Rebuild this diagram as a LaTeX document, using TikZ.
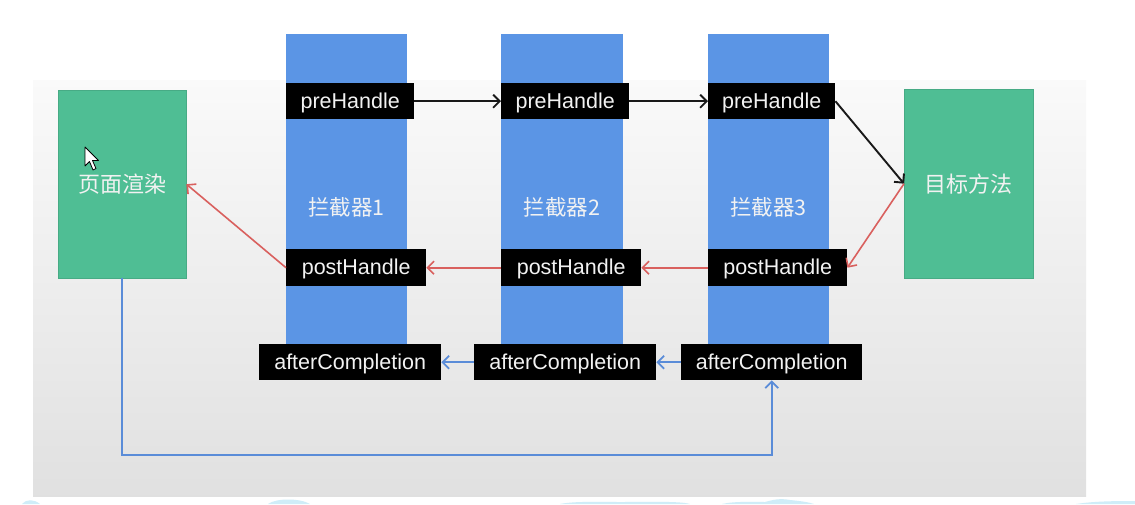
\documentclass[tikz,border=0pt]{standalone}
\usepackage{fontspec}
\setmainfont{Liberation Sans}
\newfontfamily\cjk{Noto Sans CJK SC}
\usetikzlibrary{arrows.meta}
\definecolor{grn}{HTML}{4FBE94}
\definecolor{blu}{HTML}{5B95E5}
\definecolor{redarr}{HTML}{D9605E}
\definecolor{bluarr}{HTML}{5A8CD8}
\definecolor{txt}{HTML}{F2F2F2}
\definecolor{hill}{HTML}{CFEDF8}
\tikzset{
  col/.style={fill=blu, draw=none, inner sep=0pt, anchor=north west, text=txt,
    font=\cjk\fontsize{21.5}{24}\selectfont},
  gbox/.style={fill=grn, draw=grn!90!black, line width=0.4pt, inner sep=0pt, anchor=north west, text=txt,
    font=\cjk\fontsize{22}{25}\selectfont},
  hbox/.style={fill=black, draw=none, inner sep=0pt, anchor=north west, text=txt,
    text height=17pt, text depth=3pt, font=\fontsize{21.5}{24}\selectfont},
  blk/.style={draw=black!90, line width=1.9pt, -{Straight Barb[length=6.5pt,width=13pt,line width=1.9pt]}},
  redl/.style={draw=redarr, line width=1.6pt, -{Straight Barb[length=6.5pt,width=13pt,line width=1.6pt]}},
  blul/.style={draw=bluarr, line width=1.7pt, -{Straight Barb[length=6.5pt,width=13pt,line width=1.7pt]}},
}
\begin{document}
\begin{tikzpicture}[x=1pt,y=-1pt]
\useasboundingbox (0,0) rectangle (1135,504);
\fill[white] (0,0) rectangle (1135,504);
\shade[top color=white!98!black, bottom color=white!88!black] (33,80) rectangle (1086,496);
% bottom hills
\fill[hill] (22,504) .. controls (26,499) and (34,499) .. (40,504) -- cycle;
\fill[hill] (268,504) .. controls (276,498) and (300,498) .. (310,504) -- cycle;
\fill[hill] (560,504) .. controls (575,501) and (600,502) .. (620,502) .. controls (650,502) and (680,501) .. (690,504) -- cycle;
\fill[hill] (722,504) .. controls (735,501) and (755,502) .. (765,502) .. controls (772,500) and (780,498) .. (790,500) .. controls (800,501) and (808,502) .. (814,504) -- cycle;
\fill[hill] (1076,504) .. controls (1095,501) and (1120,501) .. (1135,501) -- (1135,504) -- cycle;

% columns
\node[col, minimum width=121pt, minimum height=346pt] (c1) at (286,34) {拦截器1};
\node[col, minimum width=122pt, minimum height=346pt] (c2) at (501,34) {拦截器2};
\node[col, minimum width=121pt, minimum height=346pt] (c3) at (708,34) {拦截器3};

% green boxes
\node[gbox, minimum width=128pt, minimum height=188pt] (g1) at (58,90) {页面渲染};
\node[gbox, minimum width=129pt, minimum height=189pt] (g2) at (904,89) {目标方法};

% preHandle
\node[hbox, minimum width=128pt, minimum height=36pt] (p1) at (286,83) {preHandle};
\node[hbox, minimum width=128pt, minimum height=36pt] (p2) at (501,83) {preHandle};
\node[hbox, minimum width=127pt, minimum height=36pt] (p3) at (708,83) {preHandle};

% postHandle
\node[hbox, minimum width=140pt, minimum height=37pt] (q1) at (286,249) {postHandle};
\node[hbox, minimum width=140pt, minimum height=37pt] (q2) at (501,249) {postHandle};
\node[hbox, minimum width=139pt, minimum height=37pt] (q3) at (708,249) {postHandle};

% afterCompletion
\node[hbox, minimum width=182pt, minimum height=36pt] (a1) at (259,344) {afterCompletion};
\node[hbox, minimum width=182pt, minimum height=36pt] (a2) at (474,344) {afterCompletion};
\node[hbox, minimum width=181pt, minimum height=36pt] (a3) at (681,344) {afterCompletion};

% cursor
\filldraw[fill=white, draw=black, line width=0.8pt, line join=round]
  (85,147) -- (85,166) -- (89.5,161.5) -- (93,170) -- (96,168.5) -- (92.5,160.5) -- (98.5,160.5) -- cycle;

% arrows
\draw[blk] (p1.east) -- (p2.west);
\draw[blk] (p2.east) -- (p3.west);
\draw[blk] (p3.east) -- (g2.west);
\draw[redl] (g2.west) -- (q3.east);
\draw[redl] (q3.west) -- (q2.east);
\draw[redl] (q2.west) -- (q1.east);
\draw[redl] (q1.west) -- (g1.east);
\draw[blul] (a3.west) -- (a2.east);
\draw[blul] (a2.west) -- (a1.east);
\coordinate (bot) at (0,455);
\draw[blul] (g1.south) -- (g1.south |- bot) -- (a3.south |- bot) -- (a3.south);
\end{tikzpicture}
\end{document}
